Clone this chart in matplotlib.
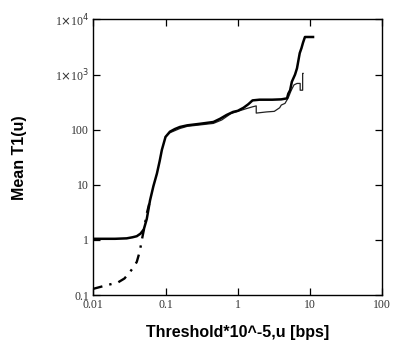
import matplotlib
matplotlib.use("Agg")
import matplotlib.pyplot as plt
from matplotlib.ticker import FixedLocator, FixedFormatter, NullLocator

# Thick solid series
x_thick = [0.01, 0.02, 0.029, 0.035, 0.04, 0.045, 0.05, 0.055, 0.061, 0.068, 0.076, 0.083, 0.089, 0.1,
           0.115, 0.135, 0.158, 0.2, 0.3, 0.46, 0.57, 0.7, 0.86, 1.0, 1.2, 1.4, 1.6, 2.0, 3.0, 4.0, 4.8,
           5.0, 5.3, 5.6, 6.2, 6.6, 7.2, 7.6, 8.0, 8.5, 9.5, 11.0]
y_thick = [1.05, 1.05, 1.07, 1.12, 1.17, 1.3, 1.55, 2.4, 5.2, 9.5, 16, 27, 43, 74,
           92, 103, 112, 120, 128, 138, 158, 185, 210, 220, 250, 290, 340, 350, 350, 355, 370,
           450, 520, 740, 1000, 1300, 2450, 3000, 3800, 4800, 4800, 4800]

# Thin solid series
x_thin = [0.1, 0.115, 0.158, 0.2, 0.3, 0.46, 0.6, 0.8, 1.0, 1.3, 1.6, 1.8, 1.8, 2.5, 3.2, 3.8,
          4.0, 4.5, 5.0, 5.5, 6.0, 6.6, 7.3, 7.3, 7.9, 7.9, 8.0]
y_thin = [74, 88, 105, 115, 122, 130, 150, 195, 215, 240, 260, 270, 200, 210, 215, 250,
          280, 300, 380, 520, 650, 690, 690, 520, 520, 1050, 1050]

# Dash-dot series (low end)
x_dash = [0.01, 0.015, 0.022, 0.027, 0.032, 0.036, 0.04, 0.044, 0.047, 0.051, 0.055, 0.061]
y_dash = [0.13, 0.15, 0.17, 0.2, 0.26, 0.32, 0.4, 0.62, 1.0, 1.7, 3.0, 5.2]

x_ticks = [0.01, 0.1, 1, 10, 100]
x_ticklabels = ["0.01", "0.1", "1", "10", "100"]
y_ticks = [0.1, 1, 10, 100, 1000, 10000]
y_ticklabels = ["0.1", "1", "10", "100", r"1$\times$10$^{3}$", r"1$\times$10$^{4}$"]

fig = plt.figure(figsize=(4.02, 3.53), dpi=100)
ax = fig.add_axes([0.232, 0.164, 0.719, 0.781])

ax.plot(x_dash, y_dash, color="black", lw=1.7, linestyle=(0, (4, 3, 1, 3)))
ax.plot(x_thin, y_thin, color="#222222", lw=0.9)
ax.plot(x_thick, y_thick, color="black", lw=1.8)

ax.set_xscale("log")
ax.set_yscale("log")
ax.set_xlim(0.01, 100)
ax.set_ylim(0.1, 10000)

ax.xaxis.set_major_locator(FixedLocator(x_ticks))
ax.xaxis.set_major_formatter(FixedFormatter(x_ticklabels))
ax.xaxis.set_minor_locator(NullLocator())
ax.yaxis.set_major_locator(FixedLocator(y_ticks))
ax.yaxis.set_major_formatter(FixedFormatter(y_ticklabels))
ax.yaxis.set_minor_locator(NullLocator())

ax.tick_params(direction="in", length=5, width=0.9, top=True, right=True,
               labelsize=8.5, labelcolor="#333333", pad=3)
for lab in ax.get_xticklabels() + ax.get_yticklabels():
    lab.set_fontfamily("Liberation Serif")

for s in ax.spines.values():
    s.set_linewidth(1.0)

ax.set_xlabel("Threshold*10^-5,u [bps]", fontsize=11.5, fontweight="bold",
              family="Liberation Sans", labelpad=10)
ax.set_ylabel("Mean T1(u)", fontsize=11.5, fontweight="bold",
              family="Liberation Sans", labelpad=20)

fig.savefig("out.png", dpi=100)
